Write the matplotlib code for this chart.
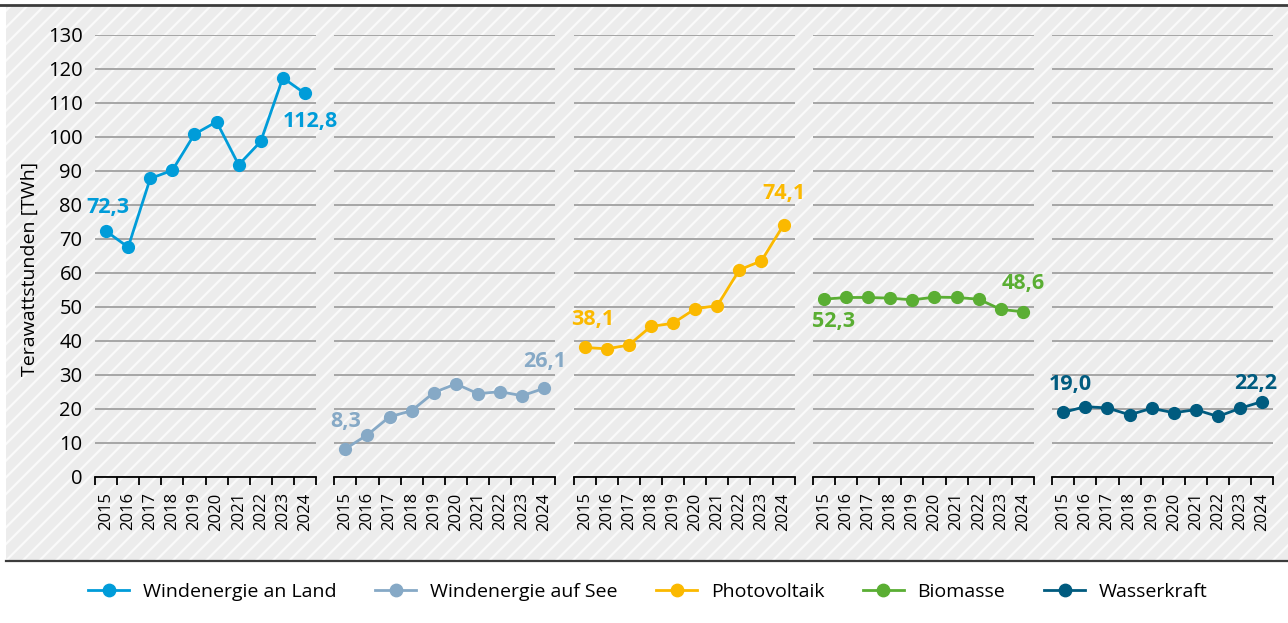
"""Stromerzeugung aus erneuerbaren Energien 2015-2024, je Energieträger ein Panel."""

import matplotlib.pyplot as plt
from matplotlib.patches import Rectangle

plt.rcParams["font.family"] = ["Open Sans", "DejaVu Sans"]
plt.rcParams["hatch.linewidth"] = 1.6

YEARS = ["2015", "2016", "2017", "2018", "2019", "2020", "2021", "2022", "2023", "2024"]

SERIES_NAMES = ["Windenergie an Land", "Windenergie auf See", "Photovoltaik", "Biomasse", "Wasserkraft"]
COLORS = ["#009cd9", "#86a9c6", "#fbb900", "#5aae33", "#005b7f"]

wind_land = [72.3, 67.6, 87.8, 90.2, 100.8, 104.5, 91.8, 98.7, 117.4, 112.8]
wind_see = [8.3, 12.4, 17.7, 19.5, 24.8, 27.4, 24.5, 25.1, 23.9, 26.1]
photovoltaik = [38.1, 37.7, 38.8, 44.3, 45.2, 49.5, 50.4, 60.9, 63.6, 74.1]
biomasse = [52.3, 52.8, 52.8, 52.6, 52.1, 52.9, 52.8, 52.3, 49.3, 48.6]
wasserkraft = [19.0, 20.7, 20.3, 18.3, 20.2, 18.9, 19.8, 17.8, 20.2, 22.2]

SERIES = [wind_land, wind_see, photovoltaik, biomasse, wasserkraft]

# label offsets (points) for first / last value of each series
LABEL_OFFSETS = [
    [(1.5, 17), (4, -20)],
    [(0, 20), (0, 19)],
    [(6, 20), (0, 23)],
    [(7, -16), (0, 20)],
    [(5, 20), (-5, 13)],
]

W, H = 1288, 623
fig = plt.figure(figsize=(W / 100, H / 100), dpi=100)

# hatched background + frame lines
fig.patches.append(Rectangle((6 / W, 1 - 561 / H), 1 - 6 / W, (561 - 6) / H,
                             transform=fig.transFigure, facecolor="#ececec",
                             edgecolor="#fafafa", linewidth=0, hatch="//", zorder=-1))
fig.add_artist(plt.Line2D([0, 1], [1 - 5 / H, 1 - 5 / H], color="#3c3c3c", lw=2))
fig.add_artist(plt.Line2D([6 / W, 1], [1 - 561 / H, 1 - 561 / H], color="#3c3c3c", lw=1.6))

ax_bottom = (H - 477) / H
ax_height = (477 - 35) / H
ax_width = 221 / W

handles = []
for i, (name, color, vals) in enumerate(zip(SERIES_NAMES, COLORS, SERIES)):
    left = (95 + i * 239.3) / W
    ax = fig.add_axes([left, ax_bottom, ax_width, ax_height])
    ax.set_facecolor("none")
    xs = [k + 0.5 for k in range(len(YEARS))]
    (ln,) = ax.plot(xs, vals, color=color, lw=2, marker="o", markersize=8.5, zorder=3,
                    clip_on=False)
    handles.append(ln)

    for idx, off in zip([0, -1], LABEL_OFFSETS[i]):
        ax.annotate(f"{vals[idx]:.1f}".replace(".", ","), (xs[idx], vals[idx]),
                    xytext=off, textcoords="offset points", ha="center", va="center",
                    color=color, fontsize=15.5, fontweight="bold", annotation_clip=False)

    ax.set_xlim(0, len(YEARS))
    ax.set_ylim(0, 130)
    ax.set_yticks(range(0, 131, 10))
    for s in ["top", "right", "left"]:
        ax.spines[s].set_visible(False)
    ax.spines["bottom"].set_color("black")
    ax.spines["bottom"].set_linewidth(1.3)
    ax.grid(axis="y", color="#a6a6a6", lw=1.4)
    ax.set_axisbelow(True)

    ax.set_xticks(range(len(YEARS) + 1))
    ax.set_xticklabels([])
    ax.tick_params(axis="x", which="major", length=6, width=1.3, color="black")
    ax.set_xticks(xs, minor=True)
    ax.set_xticklabels(YEARS, minor=True, rotation=90, fontsize=12)
    ax.tick_params(axis="x", which="minor", length=0, pad=11)

    if i == 0:
        ax.tick_params(axis="y", length=0, pad=9, labelsize=14.5)
    else:
        ax.tick_params(axis="y", length=0, labelleft=False)

fig.text(30 / W, 1 - 269 / H, "Terawattstunden [TWh]", rotation=90, ha="center",
         va="center", fontsize=14)

fig.legend(handles, SERIES_NAMES, loc="center", bbox_to_anchor=(0.503, 1 - 592 / H),
           ncol=5, frameon=False, fontsize=14, handlelength=2.1, handletextpad=0.7,
           columnspacing=2.0, markerscale=1.05)

fig.savefig("out.png", dpi=100)
